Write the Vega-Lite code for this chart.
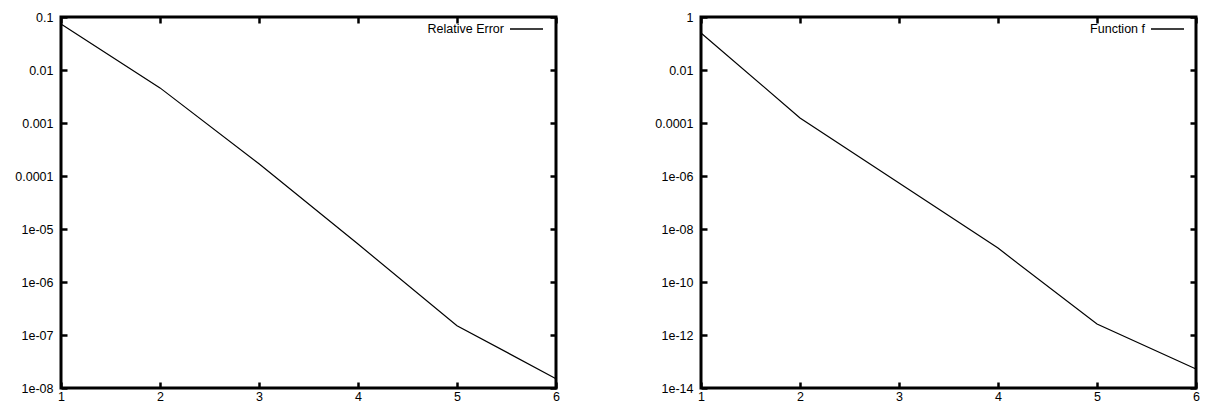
{
  "$schema": "https://vega.github.io/schema/vega-lite/v6.json",
  "background": "white",
  "padding": {"left": 13, "top": 9, "right": 0, "bottom": 0},
  "spacing": 92,
  "datasets": {
    "err": [
      {"n": 1, "v": 0.074, "series": "Relative Error"},
      {"n": 2, "v": 0.0046, "series": "Relative Error"},
      {"n": 3, "v": 0.00017, "series": "Relative Error"},
      {"n": 4, "v": 0.0000052, "series": "Relative Error"},
      {"n": 5, "v": 1.5e-7, "series": "Relative Error"},
      {"n": 6, "v": 1.5e-8, "series": "Relative Error"}
    ],
    "fun": [
      {"n": 1, "v": 0.25, "series": "Function f"},
      {"n": 2, "v": 0.000155, "series": "Function f"},
      {"n": 3, "v": 5.5e-7, "series": "Function f"},
      {"n": 4, "v": 1.9e-9, "series": "Function f"},
      {"n": 5, "v": 2.6e-12, "series": "Function f"},
      {"n": 6, "v": 5.2e-14, "series": "Function f"}
    ]
  },
  "hconcat": [
    {
      "width": 495,
      "height": 371,
      "data": {"name": "err"},
      "layer": [
        {
          "mark": {"type": "line", "color": "black", "strokeWidth": 1.2},
          "encoding": {
            "x": {"field": "n", "type": "quantitative",
              "scale": {"domain": [1, 6], "nice": false, "zero": false},
              "axis": {"orient": "bottom", "values": [1, 2, 3, 4, 5, 6], "format": "d", "title": null, "labelPadding": 8}},
            "y": {"field": "v", "type": "quantitative",
              "scale": {"type": "log", "domain": [1e-8, 0.1], "nice": false},
              "axis": {"orient": "left", "title": null, "labelPadding": 14,
                "values": [0.1, 0.01, 0.001, 0.0001, 0.00001, 0.000001, 1e-7, 1e-8],
                "labelExpr": "['0.1','0.01','0.001','0.0001','1e-05','1e-06','1e-07','1e-08'][round(-log(datum.value)/LN10)-1]"}},
            "stroke": {"field": "series", "type": "nominal",
              "scale": {"range": ["black"]},
              "legend": {"orient": "none", "legendX": 448, "legendY": -5.5, "title": null,
                "symbolType": "stroke", "symbolSize": 1089, "symbolStrokeWidth": 1.5,
                "symbolStrokeColor": "black",
                "labelAlign": "right", "labelOffset": -40, "padding": 0,
                "labelFontSize": 12.5, "labelFont": "Liberation Sans", "labelColor": "black"}}
          }
        },
        {
          "mark": {"type": "line", "opacity": 0},
          "encoding": {
            "x": {"field": "n", "type": "quantitative",
              "axis": {"orient": "top", "values": [1, 2, 3, 4, 5, 6], "labels": false, "title": null}},
            "y": {"field": "v", "type": "quantitative",
              "axis": {"orient": "right", "labels": false, "title": null,
                "values": [0.1, 0.01, 0.001, 0.0001, 0.00001, 0.000001, 1e-7, 1e-8]}}
          }
        }
      ],
      "resolve": {"axis": {"x": "independent", "y": "independent"}}
    },
    {
      "width": 495,
      "height": 371,
      "data": {"name": "fun"},
      "layer": [
        {
          "mark": {"type": "line", "color": "black", "strokeWidth": 1.2},
          "encoding": {
            "x": {"field": "n", "type": "quantitative",
              "scale": {"domain": [1, 6], "nice": false, "zero": false},
              "axis": {"orient": "bottom", "values": [1, 2, 3, 4, 5, 6], "format": "d", "title": null, "labelPadding": 8}},
            "y": {"field": "v", "type": "quantitative",
              "scale": {"type": "log", "domain": [1e-14, 1], "nice": false},
              "axis": {"orient": "left", "title": null, "labelPadding": 14,
                "values": [1, 0.01, 0.0001, 0.000001, 1e-8, 1e-10, 1e-12, 1e-14],
                "labelExpr": "['1','0.01','0.0001','1e-06','1e-08','1e-10','1e-12','1e-14'][round(-log(datum.value)/LN10/2)]"}},
            "stroke": {"field": "series", "type": "nominal",
              "scale": {"range": ["black"]},
              "legend": {"orient": "none", "legendX": 449, "legendY": -5.5, "title": null,
                "symbolType": "stroke", "symbolSize": 1089, "symbolStrokeWidth": 1.5,
                "symbolStrokeColor": "black",
                "labelAlign": "right", "labelOffset": -40, "padding": 0,
                "labelFontSize": 12.5, "labelFont": "Liberation Sans", "labelColor": "black"}}
          }
        },
        {
          "mark": {"type": "line", "opacity": 0},
          "encoding": {
            "x": {"field": "n", "type": "quantitative",
              "axis": {"orient": "top", "values": [1, 2, 3, 4, 5, 6], "labels": false, "title": null}},
            "y": {"field": "v", "type": "quantitative",
              "axis": {"orient": "right", "labels": false, "title": null,
                "values": [1, 0.01, 0.0001, 0.000001, 1e-8, 1e-10, 1e-12, 1e-14]}}
          }
        }
      ],
      "resolve": {"axis": {"x": "independent", "y": "independent"}}
    }
  ],
  "resolve": {"scale": {"stroke": "independent"}, "legend": {"stroke": "independent"}},
  "config": {
    "font": "Liberation Sans",
    "view": {"stroke": "black", "strokeWidth": 3},
    "axis": {
      "grid": false, "domain": false,
      "tickSize": -6, "tickWidth": 2.5, "tickColor": "black",
      "labelFont": "Liberation Sans", "labelFontSize": 12.5, "labelColor": "black",
      "labelPadding": 11, "labelFlush": false, "labelOverlap": false
    }
  }
}
